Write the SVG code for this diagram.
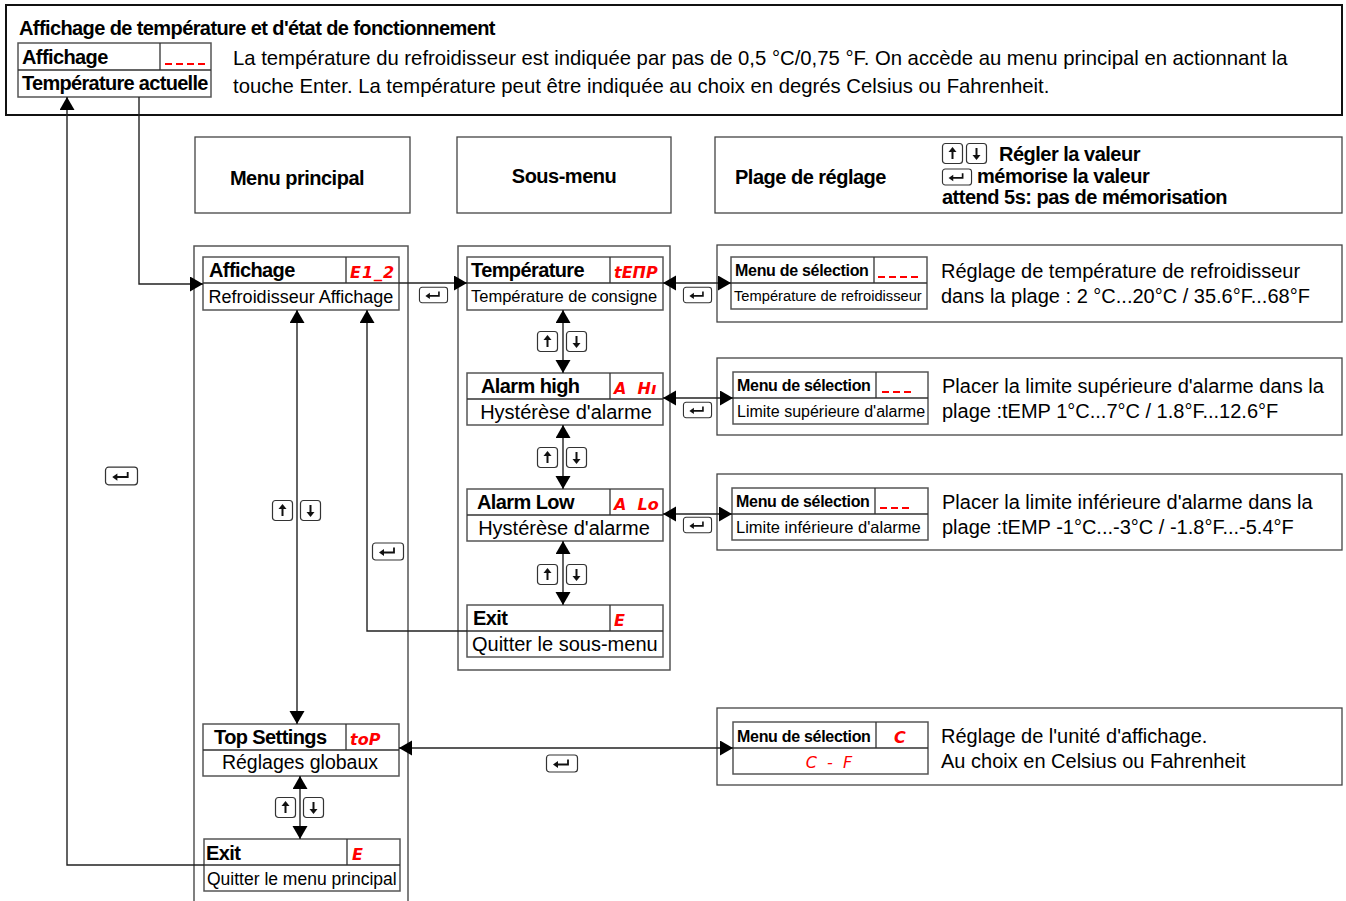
<svg xmlns="http://www.w3.org/2000/svg" xmlns:xlink="http://www.w3.org/1999/xlink" width="1346" height="901" viewBox="0 0 1346 901">
<style>
.bg{fill:#fff}
.frame{fill:#fff;stroke:#111;stroke-width:2}
.box{fill:#fff;stroke:#444;stroke-width:1.3}
.cont{fill:none;stroke:#555;stroke-width:1.5}
.node{fill:#fff;stroke:#555;stroke-width:1.5}
.div{stroke:#333;stroke-width:1.3;fill:none}
.ttl{font-family:"Liberation Sans",Arial,sans-serif;font-weight:bold;font-size:20px;letter-spacing:-0.6px;fill:#000}
.hdr{font-family:"Liberation Sans",Arial,sans-serif;font-weight:bold;font-size:20px;letter-spacing:-0.5px;fill:#000}
.sub{font-family:"Liberation Sans",Arial,sans-serif;font-size:18px;fill:#000}
.desc{font-family:"Liberation Sans",Arial,sans-serif;font-size:20px;fill:#000}
.para{font-family:"Liberation Sans",Arial,sans-serif;font-size:20.3px;fill:#000}
.sel{font-family:"Liberation Sans",Arial,sans-serif;font-weight:bold;font-size:16px;letter-spacing:-0.3px;fill:#000}
.seg{font-family:"DejaVu Sans",sans-serif;font-weight:bold;font-style:oblique;font-size:16px;fill:#f00}
.dash{stroke:#f00;stroke-width:2.2;stroke-dasharray:7 4;fill:none}
.conn{stroke:#222;stroke-width:1.4;fill:none}
.key{fill:#fff;stroke:#333;stroke-width:1.2}
</style>
<defs>
<marker id="ah" markerUnits="userSpaceOnUse" markerWidth="14" markerHeight="16" refX="13" refY="7.5" orient="auto-start-reverse">
<path d="M0,0 L13,7.5 L0,15 z" fill="#000"/>
</marker>
<symbol id="kup" viewBox="0 0 21 21" overflow="visible">
<rect class="key" x="0.5" y="0.5" width="20" height="20" rx="3"/>
<path d="M10.5,16 V7" stroke="#111" stroke-width="2"/>
<path d="M6.5,9 L10.5,4 L14.5,9 z" fill="#111"/>
</symbol>
<symbol id="kdn" viewBox="0 0 21 21" overflow="visible">
<rect class="key" x="0.5" y="0.5" width="20" height="20" rx="3"/>
<path d="M10.5,5 V14" stroke="#111" stroke-width="2"/>
<path d="M6.5,12 L10.5,17 L14.5,12 z" fill="#111"/>
</symbol>
<symbol id="kent" viewBox="0 0 32 18" overflow="visible">
<rect class="key" x="0.5" y="0.5" width="31" height="17" rx="3"/>
<path d="M10,10 H22 V5" stroke="#111" stroke-width="1.8" fill="none"/>
<path d="M7,10 L12,6.5 L12,13.5 z" fill="#111"/>
</symbol>
</defs>
<rect class="bg" x="0" y="0" width="1346" height="901"/>

<g id="header">
<rect class="frame" x="6" y="5" width="1336" height="110"/>
<text class="ttl" x="19" y="35">Affichage de température et d'état de fonctionnement</text>
<text class="para" x="233" y="65">La température du refroidisseur est indiquée par pas de 0,5 °C/0,75 °F. On accède au menu principal en actionnant la</text>
<text class="para" x="233" y="93">touche Enter. La température peut être indiquée au choix en degrés Celsius ou Fahrenheit.</text>
</g>
<g id="node-affichage-actuelle">
<rect class="node" x="18" y="43" width="193" height="54"/>
<path class="div" d="M18,70 H211 M160,43 V70"/>
<text class="ttl" x="22" y="64">Affichage</text>
<path class="dash" d="M165,64 H206"/>
<text class="ttl" x="22" y="90" style="letter-spacing:-0.7px">Température actuelle</text>
</g>

<g id="col-headers">
<rect class="box" x="195" y="137" width="215" height="76"/>
<text class="hdr" x="297" y="185" text-anchor="middle">Menu principal</text>
<rect class="box" x="457" y="137" width="214" height="76"/>
<text class="hdr" x="564" y="183" text-anchor="middle">Sous-menu</text>
<rect class="box" x="715" y="137" width="627" height="76"/>
<text class="hdr" x="735" y="184">Plage de réglage</text>
<use href="#kup" x="942" y="143" width="21" height="21"/>
<use href="#kdn" x="966" y="143" width="21" height="21"/>
<text class="hdr" x="999" y="161">Régler la valeur</text>
<use href="#kent" x="942" y="168" width="30" height="18"/>
<text class="hdr" x="977" y="183">mémorise la valeur</text>
<text class="hdr" x="942" y="204">attend 5s: pas de mémorisation</text>
</g>

<g id="containers">
<path class="cont" d="M194,905 V246 H408 V905"/>
<rect class="cont" x="458" y="246" width="212" height="424"/>
</g>

<g id="node-affichage">
<rect class="node" x="203" y="257" width="196" height="53"/>
<path class="div" d="M203,283 H399 M346,257 V283"/>
<text class="ttl" x="209" y="277">Affichage</text>
<text class="seg" x="350" y="278" letter-spacing="1">E1_2</text>
<text class="sub" x="301" y="303" text-anchor="middle">Refroidisseur Affichage</text>
</g>
<g id="node-top-settings">
<rect class="node" x="203" y="724" width="196" height="52"/>
<path class="div" d="M203,750 H399 M346,724 V750"/>
<text class="ttl" x="214" y="744">Top Settings</text>
<text class="seg" x="350" y="745">toP</text>
<text class="sub" x="300" y="769" text-anchor="middle" style="font-size:19.5px">Réglages globaux</text>
</g>
<g id="node-exit-main">
<rect class="node" x="204" y="839" width="196" height="52"/>
<path class="div" d="M204,865 H400 M347,839 V865"/>
<text class="ttl" x="206" y="860">Exit</text>
<text class="seg" x="352" y="860">E</text>
<text class="sub" x="207" y="885" style="font-size:17.5px">Quitter le menu principal</text>
</g>

<g id="node-temperature">
<rect class="node" x="467" y="257" width="196" height="53"/>
<path class="div" d="M467,283 H663 M610,257 V283"/>
<text class="ttl" x="471" y="277">Température</text>
<text class="seg" x="614" y="278">tEΠP</text>
<text class="sub" x="471" y="302" style="font-size:16.5px">Température de consigne</text>
</g>
<g id="node-alarm-high">
<rect class="node" x="467" y="373" width="196" height="52"/>
<path class="div" d="M467,399 H663 M610,373 V399"/>
<text class="ttl" x="481" y="393">Alarm high</text>
<text class="seg" x="614" y="394" xml:space="preserve">A  Hı</text>
<text class="sub" x="566" y="419" text-anchor="middle" style="font-size:20px">Hystérèse d'alarme</text>
</g>
<g id="node-alarm-low">
<rect class="node" x="467" y="489" width="196" height="52"/>
<path class="div" d="M467,515 H663 M610,489 V515"/>
<text class="ttl" x="477" y="509">Alarm Low</text>
<text class="seg" x="614" y="510" xml:space="preserve">A  Lo</text>
<text class="sub" x="564" y="535" text-anchor="middle" style="font-size:20px">Hystérèse d'alarme</text>
</g>
<g id="node-exit-sub">
<rect class="node" x="467" y="605" width="196" height="52"/>
<path class="div" d="M467,631 H663 M610,605 V631"/>
<text class="ttl" x="473" y="625">Exit</text>
<text class="seg" x="614" y="626">E</text>
<text class="sub" x="472" y="651" style="font-size:20px">Quitter le sous-menu</text>
</g>

<g id="range-temperature">
<rect class="box" x="717" y="245" width="625" height="77"/>
<rect class="node" x="731" y="257" width="196" height="52"/>
<path class="div" d="M731,283 H927 M874,257 V283"/>
<text class="sel" x="735" y="276">Menu de sélection</text>
<path class="dash" d="M878,277 H918"/>
<text class="sub" x="734" y="301" style="font-size:14.7px">Température de refroidisseur</text>
<text class="desc" x="941" y="278">Réglage de température de refroidisseur</text>
<text class="desc" x="941" y="303">dans la plage : 2 °C...20°C / 35.6°F...68°F</text>
</g>
<g id="range-alarm-high">
<rect class="box" x="717" y="358" width="625" height="77"/>
<rect class="node" x="733" y="372" width="195" height="52"/>
<path class="div" d="M733,398 H928 M876,372 V398"/>
<text class="sel" x="737" y="391">Menu de sélection</text>
<path class="dash" d="M882,392 H913"/>
<text class="sub" x="737" y="417" style="font-size:16px">Limite supérieure d'alarme</text>
<text class="desc" x="942" y="393">Placer la limite supérieure d'alarme dans la</text>
<text class="desc" x="942" y="418">plage :tEMP 1°C...7°C / 1.8°F...12.6°F</text>
</g>
<g id="range-alarm-low">
<rect class="box" x="717" y="474" width="625" height="76"/>
<rect class="node" x="732" y="488" width="196" height="52"/>
<path class="div" d="M732,514 H928 M875,488 V514"/>
<text class="sel" x="736" y="507">Menu de sélection</text>
<path class="dash" d="M880,508 H911"/>
<text class="sub" x="736" y="533" style="font-size:16.5px">Limite inférieure d'alarme</text>
<text class="desc" x="942" y="509">Placer la limite inférieure d'alarme dans la</text>
<text class="desc" x="942" y="534">plage :tEMP -1°C...-3°C / -1.8°F...-5.4°F</text>
</g>
<g id="range-unit">
<rect class="box" x="717" y="708" width="625" height="77"/>
<rect class="node" x="733" y="722" width="195" height="52"/>
<path class="div" d="M733,748 H928 M876,722 V748"/>
<text class="sel" x="737" y="742">Menu de sélection</text>
<text class="seg" x="894" y="743">C</text>
<text class="seg" x="829" y="768" text-anchor="middle" xml:space="preserve" style="font-weight:normal">C  -  F</text>
<text class="desc" x="941" y="743">Réglage de l'unité d'affichage.</text>
<text class="desc" x="941" y="768">Au choix en Celsius ou Fahrenheit</text>
</g>

<g id="connectors">
<path class="conn" d="M139,97 V284 H203" marker-end="url(#ah)"/>
<path class="conn" d="M204,865 H67 V97" marker-end="url(#ah)"/>
<path class="conn" d="M399,283 H467" marker-end="url(#ah)"/>
<path class="conn" d="M663,283 H731" marker-start="url(#ah)" marker-end="url(#ah)"/>
<path class="conn" d="M663,398 H733" marker-start="url(#ah)" marker-end="url(#ah)"/>
<path class="conn" d="M663,514 H732" marker-start="url(#ah)" marker-end="url(#ah)"/>
<path class="conn" d="M399,748 H733" marker-start="url(#ah)" marker-end="url(#ah)"/>
<path class="conn" d="M563,310 V373" marker-start="url(#ah)" marker-end="url(#ah)"/>
<path class="conn" d="M563,425 V489" marker-start="url(#ah)" marker-end="url(#ah)"/>
<path class="conn" d="M563,541 V605" marker-start="url(#ah)" marker-end="url(#ah)"/>
<path class="conn" d="M297,310 V724" marker-start="url(#ah)" marker-end="url(#ah)"/>
<path class="conn" d="M300,776 V839" marker-start="url(#ah)" marker-end="url(#ah)"/>
<path class="conn" d="M467,631 H367 V310" marker-end="url(#ah)"/>
</g>

<g id="keys">
<use href="#kent" x="419" y="286" width="29" height="18"/>
<use href="#kent" x="683" y="286" width="29" height="18"/>
<use href="#kent" x="683" y="401" width="29" height="18"/>
<use href="#kent" x="683" y="516" width="29" height="18"/>
<use href="#kent" x="546" y="754" width="32" height="19"/>
<use href="#kent" x="372" y="542" width="32" height="19"/>
<use href="#kent" x="105" y="466" width="33" height="20"/>
<use href="#kup" x="537" y="331" width="21" height="21"/>
<use href="#kdn" x="566" y="331" width="21" height="21"/>
<use href="#kup" x="537" y="447" width="21" height="21"/>
<use href="#kdn" x="566" y="447" width="21" height="21"/>
<use href="#kup" x="537" y="564" width="21" height="21"/>
<use href="#kdn" x="566" y="564" width="21" height="21"/>
<use href="#kup" x="272" y="500" width="21" height="21"/>
<use href="#kdn" x="300" y="500" width="21" height="21"/>
<use href="#kup" x="275" y="797" width="21" height="21"/>
<use href="#kdn" x="303" y="797" width="21" height="21"/>
</g>
</svg>
